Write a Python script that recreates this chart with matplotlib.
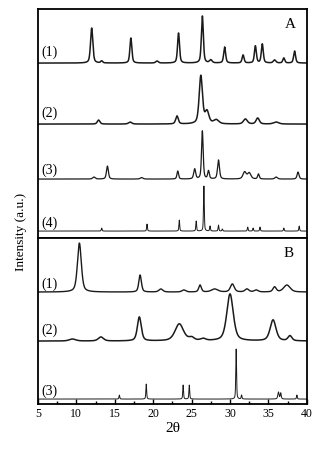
import numpy as np
import matplotlib
matplotlib.use("Agg")
import matplotlib.pyplot as plt

plt.rcParams["font.family"] = ["Liberation Serif", "DejaVu Serif"]

# peak tables: (2theta, height, fwhm) in plot units
a1_peaks = [(12.0, 35, 0.35), (17.1, 25, 0.3), (23.3, 30, 0.3), (26.4, 47, 0.3),
            (29.3, 16, 0.3), (31.7, 8, 0.3), (33.3, 17, 0.3), (34.2, 19, 0.3),
            (37.0, 5, 0.3), (38.4, 12, 0.3), (13.3, 2, 0.3), (20.5, 2, 0.4),
            (27.5, 3, 0.4), (35.8, 3, 0.4)]
a2_peaks = [(26.2, 48, 0.5), (27.0, 12, 0.6), (23.1, 8, 0.4), (12.9, 4, 0.4),
            (28.2, 4, 0.8), (32.0, 5, 0.6), (33.6, 6, 0.5), (17.0, 2, 0.5),
            (36.0, 2, 0.8)]
a3_peaks = [(14.05, 13, 0.3), (23.2, 8, 0.25), (25.4, 10, 0.3), (26.4, 48, 0.25),
            (27.2, 8, 0.25), (28.5, 19, 0.3), (31.9, 7, 0.5), (32.5, 6, 0.5),
            (33.7, 5, 0.25), (38.85, 7, 0.3), (12.3, 2, 0.4), (18.5, 1.5, 0.4),
            (36.0, 2, 0.4)]
a4_peaks = [(13.3, 3, 0.12), (19.2, 7, 0.12), (23.4, 11, 0.12), (25.6, 10, 0.12),
            (26.6, 45, 0.12), (27.4, 5, 0.12), (28.5, 6, 0.12), (29.0, 2, 0.12),
            (32.3, 4, 0.12), (33.0, 3, 0.12), (33.9, 4, 0.12), (37.0, 3, 0.12),
            (39.0, 5, 0.12)]
b1_peaks = [(10.4, 49, 0.6), (18.3, 17, 0.4), (21.0, 3, 0.6), (26.1, 7, 0.4),
            (28.0, 3, 1.0), (30.3, 8, 0.6), (32.2, 3, 0.6), (33.4, 2, 0.6),
            (35.8, 5, 0.5), (37.4, 7, 1.0), (24.0, 2, 0.6)]
b2_peaks = [(18.2, 24, 0.6), (23.4, 17, 1.3), (30.0, 47, 1.0), (35.6, 21, 0.9),
            (37.8, 5, 0.6), (13.2, 4, 0.8), (9.5, 2, 1.0), (25.0, 3, 0.8),
            (26.5, 2, 0.8)]
b3_peaks = [(15.6, 4, 0.12), (19.1, 15, 0.12), (23.9, 14, 0.12), (24.7, 14, 0.12),
            (30.8, 50, 0.12), (31.5, 4, 0.12), (36.3, 7, 0.2), (36.6, 6, 0.15),
            (38.7, 4, 0.12)]

a_offsets = [175, 114, 59, 7]
b_offsets = [112, 63, 5]
a_labels = ["(1)", "(2)", "(3)", "(4)"]
b_labels = ["(1)", "(2)", "(3)"]
a_label_y = [186, 125, 68, 15]
b_label_y = [120, 74, 13]
a_lw = [1.1, 1.1, 0.9, 0.7]
b_lw = [1.0, 1.1, 0.7]

x = np.linspace(5, 40, 3501)


def pattern(peaks, base):
    y = np.full_like(x, float(base))
    for pos, h, w in peaks:
        g = w / 2.0
        y += h * (0.5 * np.exp(-np.log(2) * ((x - pos) / g) ** 2) + 0.5 * g**2 / ((x - pos) ** 2 + g**2))
    return y


fig, (axA, axB) = plt.subplots(2, 1, figsize=(3.21, 4.54), dpi=100, sharex=True,
                               gridspec_kw={"height_ratios": [229, 166], "hspace": 0})
fig.subplots_adjust(left=0.118, right=0.956, top=0.980, bottom=0.110)

for peaks, off, lab, ly, lw in zip([a1_peaks, a2_peaks, a3_peaks, a4_peaks], a_offsets, a_labels, a_label_y, a_lw):
    axA.plot(x, pattern(peaks, off), color="#1a1a1a", lw=lw)
    axA.text(5.4, ly, lab, fontsize=10, va="center", ha="left")
for peaks, off, lab, ly, lw in zip([b1_peaks, b2_peaks, b3_peaks], b_offsets, b_labels, b_label_y, b_lw):
    axB.plot(x, pattern(peaks, off), color="#1a1a1a", lw=lw)
    axB.text(5.4, ly, lab, fontsize=10, va="center", ha="left")

axA.set_ylim(0, 229)
axB.set_ylim(0, 166)
axA.text(37.8, 214, "A", fontsize=11, ha="center", va="center")
axB.text(37.6, 151, "B", fontsize=11, ha="center", va="center")

for ax in (axA, axB):
    ax.set_yticks([])
    for s in ax.spines.values():
        s.set_linewidth(1.3)
    ax.tick_params(axis="x", which="both", direction="in", top=False)
axB.set_xlim(5, 40)
axB.set_xticks(np.arange(5, 41, 5))
axB.set_xticks(np.arange(5, 40.1, 2.5), minor=True)
axB.tick_params(axis="x", which="major", length=3.5, width=1, labelsize=8.5, pad=3)
axB.tick_params(axis="x", which="minor", length=2, width=1)
axA.tick_params(axis="x", which="both", bottom=False)
axB.set_xlabel("2θ", fontsize=11, labelpad=1)
fig.text(0.065, 0.49, "Intensity (a.u.)", rotation=90, fontsize=9.5, ha="center", va="center")

fig.savefig("out.png", dpi=100)
